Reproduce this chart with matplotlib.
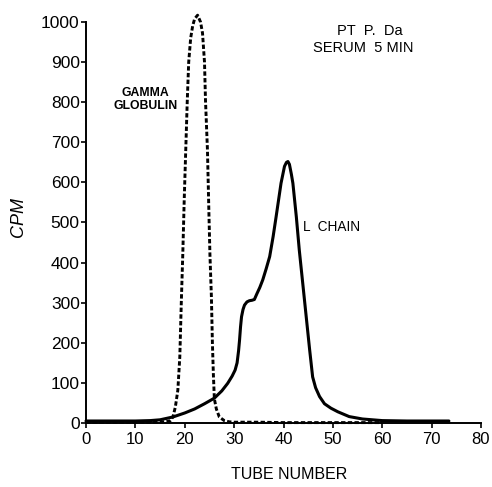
import matplotlib
matplotlib.use("Agg")
import matplotlib.pyplot as plt

plt.rcParams["font.family"] = ["Liberation Sans", "DejaVu Sans"]

# Gamma globulin (dashed)
gg_tube = [0, 5, 10, 15, 17, 17.6, 18.1, 18.6, 19.0, 19.3, 19.6, 19.9, 20.2, 20.5,
           20.8, 21.2, 21.6, 22.0, 22.6, 23.2, 23.6, 24.0, 24.2, 24.6, 24.9, 25.1,
           25.4, 25.6, 25.8, 26.0, 26.4, 27, 28, 29, 30, 35, 40, 50, 60]
gg_cpm = [2, 2, 2, 2, 5, 15, 40, 82, 165, 300, 420, 560, 680, 800,
          900, 960, 990, 1008, 1017, 1000, 972, 900, 805, 680, 520, 420,
          314, 200, 120, 60, 35, 15, 6, 3, 2, 2, 1, 1, 1]

# L chain (solid)
lc_tube = [0, 5, 10, 13, 15, 17.6, 20, 22, 24, 26, 27.5, 28.7, 29.6, 30.2, 30.6,
           30.9, 31.1, 31.3, 31.5, 31.8, 32.1, 32.6, 33.1, 33.6, 34.1, 34.6, 35.2,
           35.8, 36.5, 37.2, 37.9, 38.5, 39.0, 39.5, 40.2, 40.6, 40.9, 41.2, 41.6,
           41.9, 42.6, 43.2, 43.9, 44.6, 45.3, 45.9, 46.5, 47.3, 48.3, 49.6, 51,
           53.3, 56, 60, 65, 70, 73.5]
lc_cpm = [5, 5, 5, 6, 8, 15, 25, 35, 48, 62, 80, 99, 117, 132, 150,
          180, 207, 240, 265, 283, 294, 302, 305, 306, 308, 322, 338,
          357, 385, 415, 465, 514, 556, 598, 640, 650, 652, 645, 620,
          598, 514, 431, 348, 265, 182, 115, 88, 66, 48, 37, 28,
          16, 10, 6, 5, 5, 5]

x_ticks = [0, 10, 20, 30, 40, 50, 60, 70, 80]
y_ticks = [0, 100, 200, 300, 400, 500, 600, 700, 800, 900, 1000]

fig = plt.figure(figsize=(4.92, 4.87), dpi=100)
ax = fig.add_axes([86 / 492, 64 / 487, 395 / 492, 401 / 487])

ax.plot(lc_tube, lc_cpm, color="black", lw=2.2, solid_capstyle="round",
        solid_joinstyle="round", clip_on=False, zorder=3)
ax.plot(gg_tube, gg_cpm, color="black", lw=2.1, linestyle=(0, (1.5, 0.8)),
        clip_on=False, zorder=3)

ax.set_xlim(0, 80)
ax.set_ylim(0, 1000)
ax.set_xticks(x_ticks)
ax.set_yticks(y_ticks)
for s in ["top", "right"]:
    ax.spines[s].set_visible(False)
for s in ["left", "bottom"]:
    ax.spines[s].set_linewidth(1.4)
ax.tick_params(axis="both", direction="out", length=3.5, width=1.2, color="black")
ax.tick_params(axis="x", labelsize=12, pad=3)
ax.tick_params(axis="y", labelsize=12.5, pad=1)

ax.set_xlabel("TUBE NUMBER", fontsize=11.5)
ax.xaxis.set_label_coords(0.514, -0.110)
ax.set_ylabel("CPM", fontsize=13, style="italic")
ax.yaxis.set_label_coords(-0.149, 0.514)

ax.text(12.1, 806, "GAMMA\nGLOBULIN", fontsize=8.8, ha="center", va="center",
        linespacing=1.1, fontweight="bold")
ax.text(57.5, 978, "PT  P.  Da", fontsize=10.5, ha="center", va="center")
ax.text(56.1, 935, "SERUM  5 MIN", fontsize=10.5, ha="center", va="center")
ax.text(44.0, 489, "L  CHAIN", fontsize=9.8, ha="left", va="center")

fig.savefig("out.png", dpi=100)
